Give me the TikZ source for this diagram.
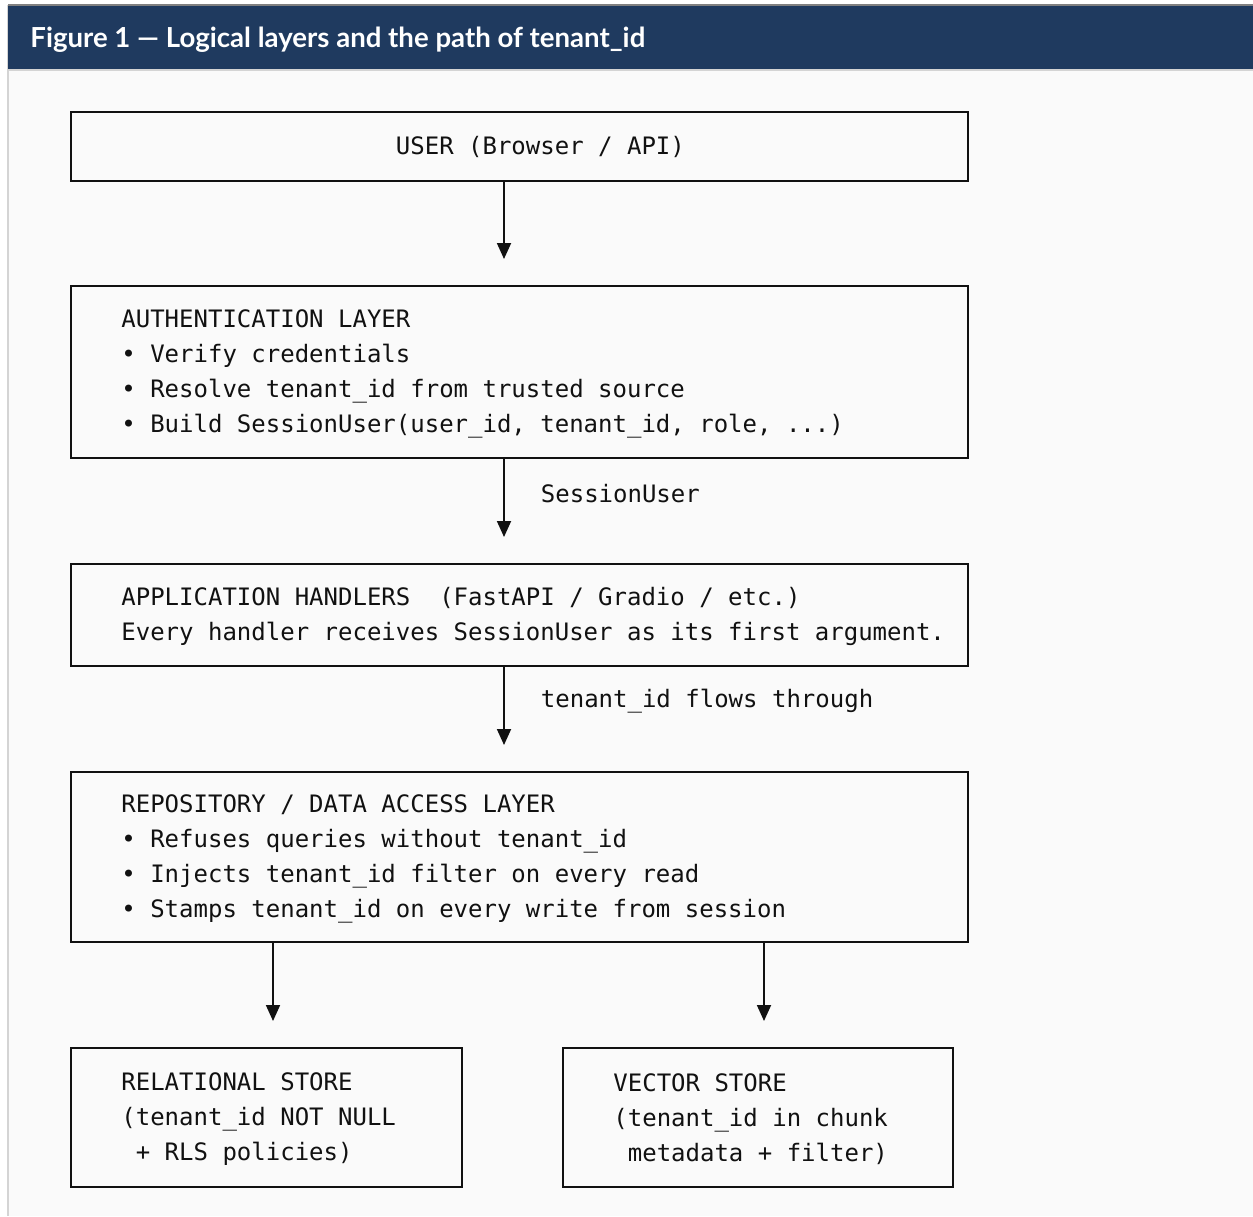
\documentclass[tikz,border=0pt]{standalone}
\usepackage{fontspec}
\usetikzlibrary{positioning,arrows.meta}
\newfontfamily\monofont{DejaVu Sans Mono}
\newfontfamily\headfont{Lato}
\definecolor{navy}{HTML}{1F3A5F}
\definecolor{paper}{HTML}{FAFAFA}
\definecolor{ink}{HTML}{111111}
\definecolor{rule}{HTML}{D4D4D4}
\newcommand{\onesp}{\hphantom{x}}
\tikzset{
  layer/.style={draw=ink,line width=0.9pt,rectangle,anchor=north west,inner sep=0pt},
  txt/.style={font=\monofont\fontsize{12}{17.5}\selectfont,text=ink,align=left,inner sep=0pt},
  flow/.style={draw=ink,line width=0.9pt,-{Triangle[length=8pt,width=7pt]},shorten >=13pt},
}
\begin{document}
\begin{tikzpicture}[x=0.5pt,y=-0.5pt]
\useasboundingbox (0,0) rectangle (1253,1216);
% page and header
\fill[white] (0,0) rectangle (1253,1216);
\fill[paper] (8,5) rectangle (1253,1216);
\draw[rule,line width=1pt] (8,5) -- (8,1216);
\draw[rule,line width=1pt] (8,70) -- (1253,70);
\fill[navy] (8,6) rectangle (1253,69);
\draw[gray,line width=1pt] (8,5) -- (1253,5);
\node[anchor=base west,inner sep=0pt,text=white,font=\headfont\bfseries\fontsize{13.8}{16}\selectfont] (title) at (30,47.5)
  {Figure 1 — Logical layers and the path of tenant\_id};

% layers
\node[layer,minimum width=448.5pt,minimum height=34.5pt] (user) at (70,111) {};
\node[txt] (usertxt) at ([xshift=10.5pt,yshift=-0.5pt]user.center) {USER (Browser / API)};

\node[layer,minimum width=448.5pt,minimum height=86pt] (auth) at (70,285) {};
\node[txt,right=25.5pt of auth.west,yshift=-1pt] (authtxt) {AUTHENTICATION LAYER\\
  • Verify credentials\\
  • Resolve tenant\_id from trusted source\\
  • Build SessionUser(user\_id, tenant\_id, role, ...)};

\node[layer,minimum width=448.5pt,minimum height=51pt] (app) at (70,563) {};
\node[txt,right=25.5pt of app.west,yshift=-1pt] (apptxt) {APPLICATION HANDLERS\onesp\onesp(FastAPI / Gradio / etc.)\\
  Every handler receives SessionUser as its first argument.};

\node[layer,minimum width=448.5pt,minimum height=85pt] (repo) at (70,771) {};
\node[txt,right=25.5pt of repo.west,yshift=-1pt] (repotxt) {REPOSITORY / DATA ACCESS LAYER\\
  • Refuses queries without tenant\_id\\
  • Injects tenant\_id filter on every read\\
  • Stamps tenant\_id on every write from session};

% stores
\node[layer,minimum width=195.5pt,minimum height=69.5pt] (rel) at (70,1047) {};
\node[txt,right=25.5pt of rel.west,yshift=-1pt] (reltxt) {RELATIONAL STORE\\
  (tenant\_id NOT NULL\\
  \onesp+ RLS policies)};

\node[layer,minimum width=195pt,minimum height=69.5pt] (vec) at (562,1047) {};
\node[txt,right=25.5pt of vec.west,yshift=-1pt] (vectxt) {VECTOR STORE\\
  (tenant\_id in chunk\\
  \onesp metadata + filter)};

% connectors
\coordinate (spine) at (504,0);
\coordinate (reltap) at (273,0);
\coordinate (vectap) at (764,0);
\draw[flow] (user.south -| spine) -- (auth.north -| spine);
\draw[flow] (auth.south -| spine) -- node[txt,pos=0.33,right=18pt] (sesslbl) {SessionUser} (app.north -| spine);
\draw[flow] (app.south -| spine) -- node[txt,pos=0.33,right=18pt] (flowlbl) {tenant\_id flows through} (repo.north -| spine);
\draw[flow] (repo.south -| reltap) -- (rel.north -| reltap);
\draw[flow] (repo.south -| vectap) -- (vec.north -| vectap);
\end{tikzpicture}
\end{document}
